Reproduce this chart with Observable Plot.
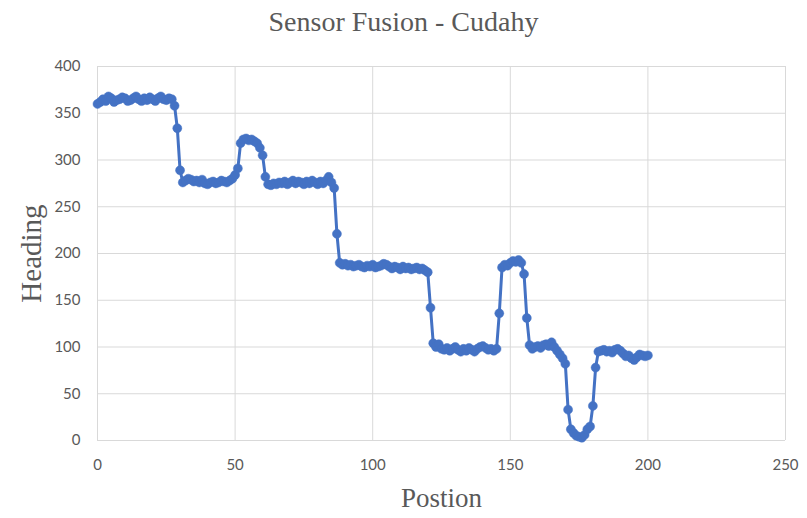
<!DOCTYPE html>
<html>
<head>
<meta charset="utf-8">
<script src="https://cdn.jsdelivr.net/npm/d3@7"></script>
<script src="https://cdn.jsdelivr.net/npm/@observablehq/plot@0.6"></script>
<style>
  body { margin: 0; background: #fff; }
  #title { height: 44px; line-height: 44px; text-align: center; font-family: "Liberation Serif", "DejaVu Serif", serif; font-size: 28px; color: #595959; width: 807px; }
</style>
</head>
<body>
<div id="title">Sensor Fusion - Cudahy</div>
<div id="chart"></div>
<script>
const chartTitle = "Sensor Fusion - Cudahy";
const xLabel = "Postion";
const yLabel = "Heading";
const xTicks = [0, 50, 100, 150, 200, 250];
const yTicks = [0, 50, 100, 150, 200, 250, 300, 350, 400];

const heading = [
  // 0-27
  360,362,365,363,368,366,362,364,365,367,366,363,364,366,368,365,363,366,364,367,365,363,366,368,365,364,366,365,
  // 28-31
  358,334,289,276,
  // 32-48
  278,280,279,277,278,276,279,275,274,276,277,275,276,278,277,276,278,
  // 49-62
  280,284,291,318,322,323,321,322,320,318,313,305,282,274,
  // 63-82
  273,275,274,276,275,277,274,276,278,275,277,276,274,277,275,278,276,274,277,275,
  // 83-87
  278,282,276,270,221,
  // 88-119
  190,188,189,187,188,186,187,188,186,185,187,186,188,185,186,187,189,188,186,184,186,185,183,186,184,185,183,184,185,183,184,182,
  // 120-123
  180,142,104,100,
  // 124-144
  103,98,97,99,96,98,100,97,95,98,96,99,97,95,98,100,101,99,97,98,96,
  // 145-157
  98,136,185,188,187,190,192,191,193,190,178,131,102,
  // 158-170
  98,100,101,99,102,103,101,105,100,96,92,88,82,
  // 171-181
  33,12,8,5,4,3,6,12,15,37,78,
  // 182-200
  95,96,97,95,96,94,97,98,96,93,90,91,88,86,89,92,91,90,91
];
const position = heading.map((_, i) => i);
const data = position.map((p, i) => ({position: p, heading: heading[i]}));

const blue = "#4472c4";
const tickFont = "Lato, 'Open Sans', sans-serif";
const serif = "'Liberation Serif', 'DejaVu Serif', serif";

const chart = Plot.plot({
  width: 807,
  height: 474,
  marginTop: 22,
  marginBottom: 78,
  marginLeft: 97,
  marginRight: 22,
  style: {background: "#fff", color: "#595959"},
  x: {domain: [0, 250], ticks: xTicks},
  y: {domain: [0, 400], ticks: yTicks},
  marks: [
    Plot.gridX(xTicks, {stroke: "#d9d9d9", strokeOpacity: 1, strokeWidth: 1}),
    Plot.gridY(yTicks, {stroke: "#d9d9d9", strokeOpacity: 1, strokeWidth: 1}),
    Plot.axisX(xTicks, {tickSize: 0, tickPadding: 19, fontSize: 15, fontFamily: tickFont, fill: "#595959", label: null}),
    Plot.axisY(yTicks, {tickSize: 0, tickPadding: 17, fontSize: 15, fontFamily: tickFont, fill: "#595959", label: null}),
    Plot.line(data, {x: "position", y: "heading", stroke: blue, strokeWidth: 3}),
    Plot.dot(data, {x: "position", y: "heading", r: 4.5, fill: blue, stroke: blue, strokeWidth: 0.5}),
    Plot.text([xLabel], {frameAnchor: "bottom", dy: 58, lineAnchor: "middle", textAnchor: "middle", fontSize: 27, fontFamily: serif, fill: "#595959"}),
    Plot.text([yLabel], {frameAnchor: "left", dx: -66, rotate: -90, lineAnchor: "middle", textAnchor: "middle", fontSize: 29, fontFamily: serif, fill: "#595959"})
  ]
});
document.getElementById("chart").appendChild(chart);
</script>
</body>
</html>
